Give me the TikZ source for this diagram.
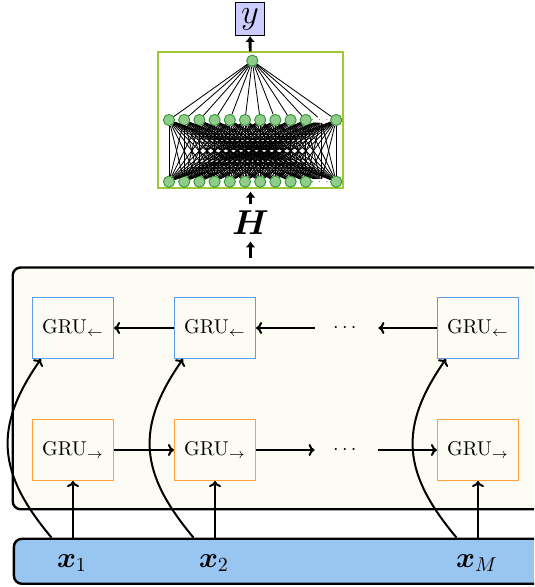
\documentclass[tikz,border=0pt]{standalone}
\usepackage{amsmath,bm}
\usetikzlibrary{arrows.meta,calc}

\definecolor{panelfill}{RGB}{253,252,244}
\definecolor{barfill}{RGB}{153,197,241}
\definecolor{backblue}{RGB}{88,158,232}
\definecolor{fwdorange}{RGB}{255,160,60}
\definecolor{neuronfill}{RGB}{146,204,140}
\definecolor{neuronedge}{RGB}{46,150,46}
\definecolor{netframe}{RGB}{160,200,50}
\definecolor{outfill}{RGB}{204,204,255}

\begin{document}
\begin{tikzpicture}[x=0.5pt,y=0.5pt,
  grubox/.style={draw, line width=0.55pt, fill=panelfill, minimum width=40.5pt,
    minimum height=30.5pt, inner sep=0pt, font=\normalsize},
  gruback/.style={grubox, draw=backblue},
  grufwd/.style={grubox, draw=fwdorange},
  gaps/.style={minimum width=31.5pt, minimum height=10pt, inner sep=0pt},
  flow/.style={line width=1pt, -{To[length=3pt,width=6pt]}},
  bigflow/.style={line width=1.4pt, -{Latex[length=3pt,width=5pt]}},
  neuron/.style={circle, draw=neuronedge, fill=neuronfill, line width=0.45pt,
    minimum size=5.6pt, inner sep=0pt},
  netdots/.style={inner sep=0pt, font=\tiny, text=gray},
  netedge/.style={line width=0.42pt},
  xlab/.style={font=\Large, inner sep=1pt}]

\clip (0,0) rectangle (534,587);

% ---------------- output and dense network ----------------
\node[draw=black, line width=0.6pt, fill=outfill, font=\LARGE, inner sep=2.8pt] (yout) at (250,568) {$y$};
\node[draw=netframe, line width=0.55pt, minimum width=92.5pt, minimum height=68pt,
      inner sep=0pt] (net) at (250.5,467) {};
\node[neuron] (out) at (252.3,526.3) {};

\foreach \i in {0,...,11}{
  \pgfmathsetmacro\nx{169+15.2*\i}
  \ifnum\i=10
    \node[netdots] (h\i) at (\nx,467) {$\cdots$};
    \node[netdots] (b\i) at (\nx,405.3) {$\cdots$};
  \else
    \node[neuron] (h\i) at (\nx,467) {};
    \node[neuron] (b\i) at (\nx,405.3) {};
  \fi
}
\foreach \i in {0,...,11}{
  \draw[netedge] (out) -- (h\i);
  \foreach \j in {0,...,11}{
    \draw[netedge] (b\i) -- (h\j);
  }
}

\draw[bigflow] (net) -- (yout);

% ---------------- hidden representation ----------------
\node[font=\LARGE, inner sep=3.33pt] (H) at (250.5,364.5) {$\bm{H}$};
\coordinate (hin) at (250.5,329);
\draw[bigflow, shorten >=1.5pt] (H) -- (net);
\draw[bigflow] (hin) -- (H);

% ---------------- bidirectional GRU panel ----------------
\draw[line width=1.2pt, rounded corners=4pt, fill=panelfill] (12.7,77.7) rectangle (620,319.5);

\node[gruback] (gb1) at (73,259) {GRU$_{\leftarrow}$};
\node[gruback] (gb2) at (215,259) {GRU$_{\leftarrow}$};
\node[gaps]    (db)  at (346.5,259) {$\cdots$};
\node[gruback] (gb3) at (478,259) {GRU$_{\leftarrow}$};

\node[grufwd] (gf1) at (73,137) {GRU$_{\rightarrow}$};
\node[grufwd] (gf2) at (215,137) {GRU$_{\rightarrow}$};
\node[gaps]   (df)  at (346.5,137) {$\cdots$};
\node[grufwd] (gf3) at (478,137) {GRU$_{\rightarrow}$};

\draw[flow] (gb3) -- (db);
\draw[flow] (db) -- (gb2);
\draw[flow] (gb2) -- (gb1);

\draw[flow] (gf1) -- (gf2);
\draw[flow] (gf2) -- (df);
\draw[flow] (df) -- (gf3);

% ---------------- input sequence ----------------
\node[draw, line width=1.2pt, rounded corners=4pt, fill=barfill, anchor=south west,
      minimum width=300pt, minimum height=22.5pt, inner sep=0pt] (bar) at (12.7,2) {};

\node[xlab] (x1) at (72,24) {$\bm{x}_1$};
\node[xlab] (x2) at (214,24) {$\bm{x}_2$};
\node[xlab] (xM) at (477,24) {$\bm{x}_M$};

\foreach \k in {1,2,3}{
  \draw[flow] (gf\k.south |- bar.north) -- (gf\k);
  \draw[flow] ($(gf\k.south |- bar.north)+(-21.5,0)$)
      to[out=130,in=-125,looseness=1.2] ($(gb\k.south west)+(9,0)$);
}
\end{tikzpicture}
\end{document}
